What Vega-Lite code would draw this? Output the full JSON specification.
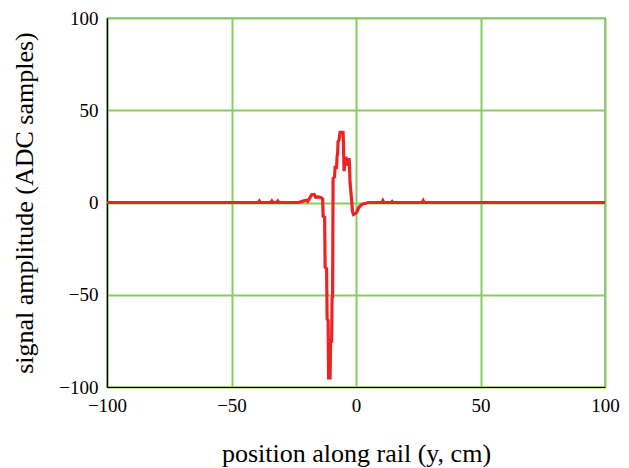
{
  "$schema": "https://vega.github.io/schema/vega-lite/v6.json",
  "width": 498,
  "height": 369,
  "autosize": "none",
  "padding": {"left": 107, "top": 18, "right": 24, "bottom": 81},
  "background": "white",
  "config": {
    "view": {"stroke": "black", "strokeWidth": 1.2},
    "font": "Liberation Serif",
    "axis": {
      "labelFont": "Liberation Serif",
      "labelFontSize": 19,
      "labelColor": "black",
      "titleFont": "Liberation Serif",
      "titleFontSize": 26,
      "titleFontWeight": "normal",
      "titleColor": "black",
      "gridColor": "#86cd62",
      "gridWidth": 2,
      "gridOpacity": 1,
      "ticks": false,
      "domainColor": "black",
      "domainWidth": 1.2
    }
  },
  "data": {
    "values": [
      {"y": -100, "amp": 0},
      {"y": -39.2, "amp": 0},
      {"y": -38.8, "amp": 0.8},
      {"y": -38.4, "amp": 0},
      {"y": -34.2, "amp": 0},
      {"y": -33.8, "amp": 0.8},
      {"y": -33.4, "amp": 0},
      {"y": -31.8, "amp": 0},
      {"y": -31.4, "amp": 0.8},
      {"y": -31.0, "amp": 0},
      {"y": -23.0, "amp": 0},
      {"y": -21.6, "amp": 0.6},
      {"y": -20.0, "amp": 1.2},
      {"y": -19.4, "amp": 0.6},
      {"y": -18.6, "amp": 2.4},
      {"y": -17.8, "amp": 4.2},
      {"y": -16.8, "amp": 4.4},
      {"y": -16.2, "amp": 2.8},
      {"y": -15.2, "amp": 3.0},
      {"y": -14.0, "amp": 2.6},
      {"y": -13.4, "amp": 2.0},
      {"y": -13.2, "amp": -7.5},
      {"y": -12.6, "amp": -8.0},
      {"y": -12.4, "amp": -35},
      {"y": -11.8, "amp": -36},
      {"y": -11.6, "amp": -63},
      {"y": -11.2, "amp": -64},
      {"y": -11.0, "amp": -95},
      {"y": -10.4, "amp": -95},
      {"y": -10.2, "amp": -74},
      {"y": -9.8, "amp": -76},
      {"y": -9.6, "amp": -51},
      {"y": -9.4, "amp": -52},
      {"y": -9.2, "amp": 13},
      {"y": -8.6, "amp": 14},
      {"y": -8.4, "amp": 19},
      {"y": -7.8, "amp": 19},
      {"y": -7.6, "amp": 25},
      {"y": -7.4, "amp": 26},
      {"y": -7.2, "amp": 33},
      {"y": -6.8, "amp": 34},
      {"y": -6.4, "amp": 38},
      {"y": -5.2, "amp": 38},
      {"y": -5.0, "amp": 30},
      {"y": -4.8, "amp": 17},
      {"y": -4.6, "amp": 20},
      {"y": -4.4, "amp": 24},
      {"y": -4.0, "amp": 24},
      {"y": -3.6, "amp": 20},
      {"y": -3.2, "amp": 22},
      {"y": -2.8, "amp": 24},
      {"y": -2.6, "amp": 20},
      {"y": -2.4, "amp": 11},
      {"y": -1.8, "amp": 2},
      {"y": -1.4, "amp": -5},
      {"y": -1.0, "amp": -6.5},
      {"y": -0.2, "amp": -6},
      {"y": 0.4, "amp": -5},
      {"y": 1.0, "amp": -3},
      {"y": 1.6, "amp": -2},
      {"y": 2.4, "amp": -1},
      {"y": 3.6, "amp": -0.5},
      {"y": 5.0, "amp": 0},
      {"y": 10.4, "amp": 0},
      {"y": 10.8, "amp": 1},
      {"y": 11.2, "amp": 0},
      {"y": 14.2, "amp": 0},
      {"y": 14.5, "amp": 0.5},
      {"y": 14.8, "amp": 0},
      {"y": 26.6, "amp": 0},
      {"y": 27.0, "amp": 1},
      {"y": 27.4, "amp": 0},
      {"y": 100, "amp": 0}
    ]
  },
  "mark": {"type": "line", "color": "#ee2222", "strokeWidth": 3.2, "clip": true},
  "encoding": {
    "x": {
      "field": "y",
      "type": "quantitative",
      "scale": {"domain": [-100, 100], "nice": false, "zero": false},
      "axis": {
        "title": "position along rail (y, cm)",
        "values": [-100, -50, 0, 50, 100],
        "labelPadding": 9,
        "titlePadding": 25,
        "labelFlush": false
      }
    },
    "y": {
      "field": "amp",
      "type": "quantitative",
      "scale": {"domain": [-100, 100], "nice": false, "zero": false},
      "axis": {
        "title": "signal amplitude (ADC samples)",
        "values": [-100, -50, 0, 50, 100],
        "labelPadding": 9,
        "titlePadding": 21,
        "labelFlush": false,
        "labelBaseline": "middle"
      }
    }
  }
}
